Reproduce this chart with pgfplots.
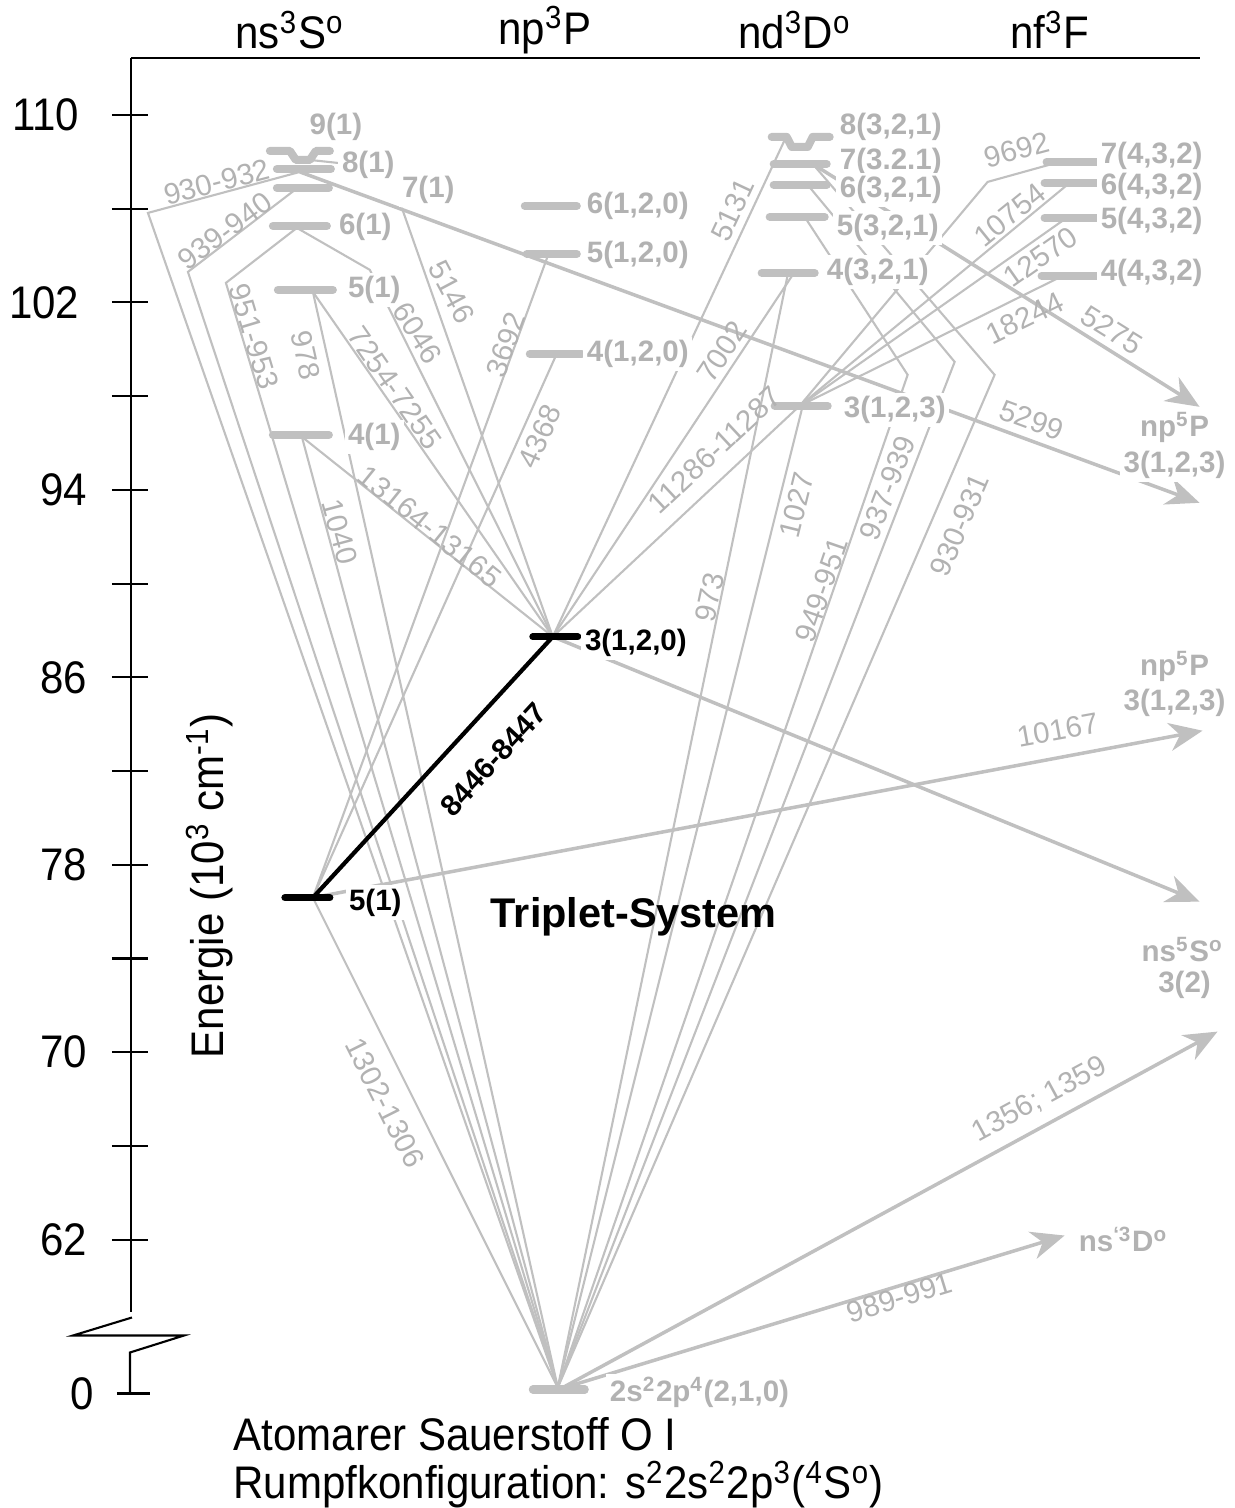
\documentclass[border=0pt]{standalone}
\usepackage{pgfplots}
\pgfplotsset{compat=1.18}
\usepackage{fontspec}
\setmainfont{Liberation Sans}
\newfontfamily\cond{Liberation Sans}[FakeStretch=0.92]
\usetikzlibrary{arrows.meta}
\definecolor{lg}{RGB}{192,192,192}
\definecolor{lt}{RGB}{178,178,178}
\tikzset{
  txt/.style={font=\cond\fontsize{13}{15}\selectfont, text=black, inner sep=0pt},
  lab/.style={font=\fontsize{8.4}{10}\selectfont\bfseries, text=lt, fill=white, inner sep=1pt, anchor=west},
  blab/.style={font=\fontsize{8.4}{10}\selectfont\bfseries, text=black, fill=white, inner sep=1pt, anchor=west},
  tl/.style={font=\fontsize{8.4}{10}\selectfont, text=lt, inner sep=0pt},
}
\begin{document}
\begin{tikzpicture}
\begin{axis}[width=12.35cm, height=15.08cm, scale only axis,
  xmin=0, xmax=1235, ymin=50.572, ymax=114.906, hide axis, clip=false]

% full picture frame (invisible) so that the page is the whole axis box
\path (axis cs:0,50.572) rectangle (axis cs:1235,114.906);

% ---------- axis drawn by hand ----------
\addplot[black, line width=0.6pt] coordinates {(131,112.432)(131,58.891)};
\addplot[black, line width=0.6pt] coordinates {(132,58.677)(73,57.908)(184,57.908)(130,57.183)(130,55.434)};
\addplot[black, line width=0.6pt] coordinates {(117,55.434)(150,55.434)};
\addplot[black, line width=0.6pt] coordinates {(131,112.432)(1200,112.432)};
\addplot[black, line width=0.6pt] coordinates {(112,110)(148,110)};
\addplot[black, line width=0.6pt] coordinates {(112,106)(148,106)};
\addplot[black, line width=0.6pt] coordinates {(112,102)(148,102)};
\addplot[black, line width=0.6pt] coordinates {(112,98)(148,98)};
\addplot[black, line width=0.6pt] coordinates {(112,94)(148,94)};
\addplot[black, line width=0.6pt] coordinates {(112,90)(148,90)};
\addplot[black, line width=0.6pt] coordinates {(112,86)(148,86)};
\addplot[black, line width=0.6pt] coordinates {(112,82)(148,82)};
\addplot[black, line width=0.6pt] coordinates {(112,78)(148,78)};
\addplot[black, line width=0.6pt] coordinates {(112,74)(148,74)};
\addplot[black, line width=0.6pt] coordinates {(112,70)(148,70)};
\addplot[black, line width=0.6pt] coordinates {(112,66)(148,66)};
\addplot[black, line width=0.6pt] coordinates {(112,62)(148,62)};

\node[txt, anchor=east] at (80,110) {110};
\node[txt, anchor=east] at (80,102) {102};
\node[txt, anchor=east] at (88,94) {94};
\node[txt, anchor=east] at (88,86) {86};
\node[txt, anchor=east] at (88,78) {78};
\node[txt, anchor=east] at (88,70) {70};
\node[txt, anchor=east] at (88,62) {62};
\node[txt, anchor=east] at (95,55.434) {0};
\node[txt, rotate=90] at (210,77.107) {Energie (10\textsuperscript{3} cm\textsuperscript{-1})};

% headers
\node[txt] at (290,113.626) {ns\textsuperscript{3}S\textsuperscript{o}};
\node[txt] at (545,113.626) {np\textsuperscript{3}P};
\node[txt] at (795,113.626) {nd\textsuperscript{3}D\textsuperscript{o}};
\node[txt] at (1050,113.626) {nf\textsuperscript{3}F};

% ---------- thin transitions ----------
\addplot[lg, line width=0.6pt] coordinates {(300,107.568)(148,105.819)(558,55.690)};
\addplot[lg, line width=0.6pt] coordinates {(295,106.800)(188,103.302)(558,55.690)};
\addplot[lg, line width=0.6pt] coordinates {(297,105.179)(226,102.833)(558,55.690)};
\addplot[lg, line width=0.6pt] coordinates {(313,102.449)(558,55.690)};
\addplot[lg, line width=0.6pt] coordinates {(302,96.263)(558,55.690)};
\addplot[lg, line width=0.6pt] coordinates {(313,76.596)(558,55.690)};
\addplot[lg, line width=0.6pt] coordinates {(302,96.263)(553,87.731)};
\addplot[lg, line width=0.6pt] coordinates {(313,102.449)(553,87.731)};
\addplot[lg, line width=0.6pt] coordinates {(297,105.179)(370,103.388)(553,87.731)};
\addplot[lg, line width=0.6pt] coordinates {(402,106.033)(553,87.731)};
\addplot[lg, line width=0.6pt] coordinates {(548,103.984)(313,76.596)};
\addplot[lg, line width=0.6pt] coordinates {(556,99.718)(313,76.596)};
\addplot[lg, line width=0.6pt] coordinates {(785,108.933)(553,87.731)};
\addplot[lg, line width=0.6pt] coordinates {(793,103.174)(553,87.731)};
\addplot[lg, line width=0.6pt] coordinates {(800,97.585)(553,87.731)};
\addplot[lg, line width=0.6pt] coordinates {(788,103.174)(558,55.690)};
\addplot[lg, line width=0.6pt] coordinates {(803,97.585)(558,55.690)};
\addplot[lg, line width=0.6pt] coordinates {(805,105.648)(908,98.908)(558,55.690)};
\addplot[lg, line width=0.6pt] coordinates {(808,107.014)(955,99.462)(558,55.690)};
\addplot[lg, line width=0.6pt] coordinates {(813,107.909)(995,98.908)(558,55.690)};
\addplot[lg, line width=0.6pt] coordinates {(1060,107.995)(988,107.142)(800,97.585)};
\addplot[lg, line width=0.6pt] coordinates {(1070,107.099)(800,97.585)};
\addplot[lg, line width=0.6pt] coordinates {(1067,105.606)(800,97.585)};
\addplot[lg, line width=0.6pt] coordinates {(1063,103.131)(800,97.585)};
\addplot[lg, line width=0.6pt] coordinates {(310,108.080)(338,107.952)};

% ---------- thick arrows ----------
\addplot[lg, line width=1pt, -{Stealth[length=9.5pt,width=8pt,inset=3pt]}] coordinates {(300,107.568)(1200,93.447)};
\addplot[lg, line width=1pt, -{Stealth[length=9.5pt,width=8pt,inset=3pt]}] coordinates {(813,107.909)(1200,97.543)};
\addplot[lg, line width=1pt, -{Stealth[length=9.5pt,width=8pt,inset=3pt]}] coordinates {(313,76.596)(1203,83.721)};
\addplot[lg, line width=1pt, -{Stealth[length=9.5pt,width=8pt,inset=3pt]}] coordinates {(553,87.731)(1200,76.425)};
\addplot[lg, line width=1pt, -{Stealth[length=9.5pt,width=8pt,inset=3pt]}] coordinates {(565,55.733)(1218,70.879)};
\addplot[lg, line width=1pt, -{Stealth[length=9.5pt,width=8pt,inset=3pt]}] coordinates {(565,55.690)(1065,62.175)};

% black transition
\addplot[black, line width=1.2pt] coordinates {(313,76.596)(553,87.731)};

% ---------- levels ----------
\addplot[lg, line width=2.3pt, line cap=round, line join=round] coordinates {(270,108.464)(290,108.464)(296,108.080)(310,108.080)(316,108.464)(330,108.464)};
\addplot[lg, line width=2.3pt, line cap=round] coordinates {(277,107.696)(331,107.696)};
\addplot[lg, line width=2.3pt, line cap=round] coordinates {(277,106.886)(329,106.886)};
\addplot[lg, line width=2.3pt, line cap=round] coordinates {(273,105.264)(327,105.264)};
\addplot[lg, line width=2.3pt, line cap=round] coordinates {(278,102.534)(333,102.534)};
\addplot[lg, line width=2.3pt, line cap=round] coordinates {(273,96.349)(329,96.349)};
\addplot[black, line width=2pt, line cap=round] coordinates {(285,76.596)(330,76.596)};

\addplot[lg, line width=2.3pt, line cap=round] coordinates {(525,106.118)(577,106.118)};
\addplot[lg, line width=2.3pt, line cap=round] coordinates {(527,104.070)(577,104.070)};
\addplot[lg, line width=2.3pt, line cap=round] coordinates {(530,99.804)(582,99.804)};
\addplot[black, line width=2pt, line cap=round] coordinates {(533,87.731)(578,87.731)};

\addplot[lg, line width=2.3pt, line cap=round, line join=round] coordinates {(772,109.061)(787,109.061)(792,108.635)(808,108.635)(813,109.061)(830,109.061)};
\addplot[lg, line width=2.3pt, line cap=round] coordinates {(774,107.909)(827,107.909)};
\addplot[lg, line width=2.3pt, line cap=round] coordinates {(774,107.014)(827,107.014)};
\addplot[lg, line width=2.3pt, line cap=round] coordinates {(770,105.648)(825,105.648)};
\addplot[lg, line width=2.3pt, line cap=round] coordinates {(762,103.259)(815,103.259)};
\addplot[lg, line width=2.3pt, line cap=round] coordinates {(775,97.585)(828,97.585)};

\addplot[lg, line width=2.3pt, line cap=round] coordinates {(1047,107.995)(1097,107.995)};
\addplot[lg, line width=2.3pt, line cap=round] coordinates {(1045,107.099)(1097,107.099)};
\addplot[lg, line width=2.3pt, line cap=round] coordinates {(1045,105.606)(1097,105.606)};
\addplot[lg, line width=2.3pt, line cap=round] coordinates {(1042,103.131)(1097,103.131)};

\addplot[lg, line width=2.3pt, line cap=round] coordinates {(533,55.605)(585,55.605)};

% ---------- level labels ----------
\node[lab, anchor=center] at (336,109.488) {9(1)};
\node[lab] at (338,107.867) {8(1)};
\node[lab] at (398,106.800) {7(1)};
\node[lab] at (335,105.222) {6(1)};
\node[lab] at (344,102.534) {5(1)};
\node[lab] at (344,96.263) {4(1)};
\node[blab] at (345,76.382) {5(1)};
\node[lab] at (583,106.118) {6(1,2,0)};
\node[lab] at (583,104.027) {5(1,2,0)};
\node[lab] at (583,99.804) {4(1,2,0)};
\node[blab] at (581,87.475) {3(1,2,0)};
\node[lab] at (836,109.488) {8(3,2,1)};
\node[lab] at (836,107.995) {7(3.2.1)};
\node[lab] at (836,106.800) {6(3,2,1)};
\node[lab] at (833,105.179) {5(3,2,1)};
\node[lab] at (823,103.302) {4(3,2,1)};
\node[lab] at (840,97.415) {3(1,2,3)};
\node[lab] at (1097,108.251) {7(4,3,2)};
\node[lab] at (1097,106.928) {6(4,3,2)};
\node[lab] at (1097,105.478) {5(4,3,2)};
\node[lab] at (1097,103.259) {4(4,3,2)};
\node[lab] at (606,55.477) {2s\textsuperscript{2}2p\textsuperscript{4}(2,1,0)};
\node[lab, anchor=center] at (1175,96.647) {np\textsuperscript{5}P};
\node[lab, anchor=center] at (1175,95.069) {3(1,2,3)};
\node[lab, anchor=center] at (1175,86.451) {np\textsuperscript{5}P};
\node[lab, anchor=center] at (1175,84.916) {3(1,2,3)};
\node[lab, anchor=center] at (1183,74.377) {ns\textsuperscript{5}S\textsuperscript{o}};
\node[lab, anchor=center] at (1185,72.884) {3(2)};
\node[lab] at (1075,62.005) {ns\textsuperscript{‘3}D\textsuperscript{o}};

% ---------- transition labels ----------
\node[tl, rotate=14.7] at (217,107.142) {930-932};
\node[tl, rotate=36.8] at (225,105.050) {939-940};
\node[tl, rotate=-73.3] at (254,100.528) {951-953};
\node[tl, rotate=-77.4] at (306,99.761) {978};
\node[tl, rotate=-75] at (340,92.210) {1040};
\node[tl, rotate=-55.2] at (395,98.353) {7254-7255};
\node[tl, rotate=-58] at (418,100.700) {6046};
\node[tl, rotate=-62] at (452,102.449) {5146};
\node[tl, rotate=70] at (506,100.188) {3692};
\node[tl, rotate=66] at (540,96.263) {4368};
\node[tl, rotate=-39] at (430,92.423) {13164-13165};
\node[tl, rotate=-63.4] at (385,67.850) {1302-1306};
\node[tl, rotate=65] at (733,105.947) {5131};
\node[tl, rotate=56.5] at (722,99.889) {7002};
\node[tl, rotate=43] at (715,95.708) {11286-11287};
\node[tl, rotate=78] at (710,89.394) {973};
\node[tl, rotate=76] at (797,93.362) {1027};
\node[tl, rotate=71] at (822,89.735) {949-951};
\node[tl, rotate=69] at (888,94.087) {937-939};
\node[tl, rotate=67] at (960,92.508) {930-931};
\node[tl, rotate=15] at (1017,108.507) {9692};
\node[tl, rotate=39] at (1010,105.734) {10754};
\node[tl, rotate=35] at (1041,103.942) {12570};
\node[tl, rotate=26] at (1025,101.339) {18244};
\node[tl, rotate=-32] at (1112,100.827) {5275};
\node[tl, rotate=-20.2] at (1032,96.988) {5299};
\node[tl, rotate=10.3] at (1058,83.763) {10167};
\node[tl, rotate=28.4] at (1040,67.978) {1356; 1359};
\node[tl, rotate=17] at (900,59.531) {989-991};
\node[font=\fontsize{8.4}{10}\selectfont\bfseries, text=black, inner sep=0pt, rotate=47.4] at (494,82.500) {8446-8447};

\node[font=\fontsize{11.8}{14}\selectfont\bfseries, text=black, inner sep=0pt] at (634,75.785) {Triplet-System};

\node[txt, anchor=west] at (233,53.685) {Atomarer Sauerstoff O I};
\node[txt, anchor=west] at (233,51.552) {Rumpfkonfiguration: s\textsuperscript{2}2s\textsuperscript{2}2p\textsuperscript{3}(\textsuperscript{4}S\textsuperscript{o})};

\end{axis}
\end{tikzpicture}
\end{document}
